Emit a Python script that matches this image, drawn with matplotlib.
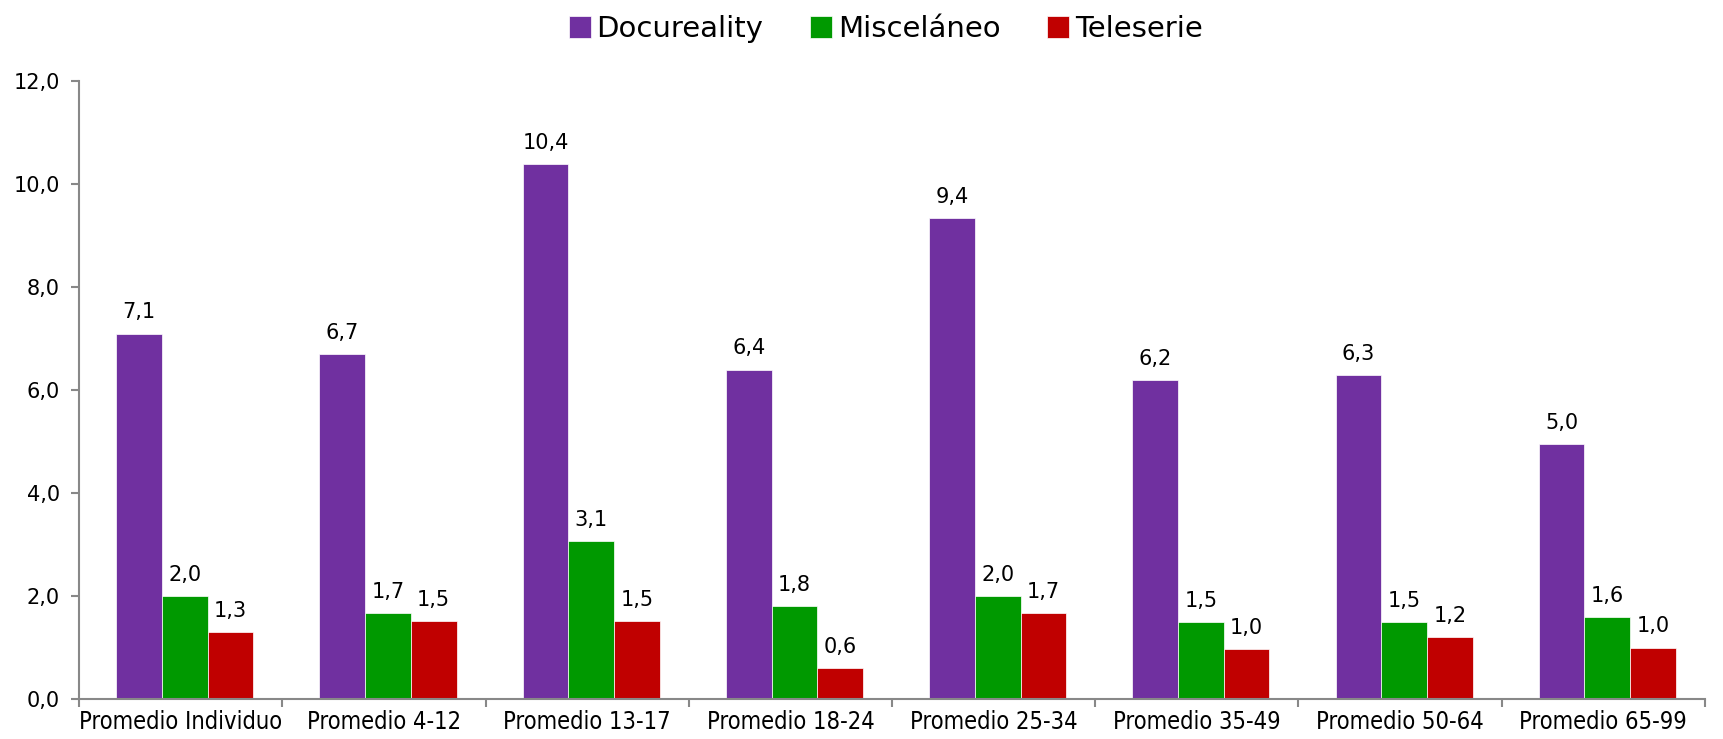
import matplotlib
matplotlib.use("Agg")
import matplotlib.pyplot as plt
import numpy as np

categories = ["Promedio Individuo", "Promedio 4-12", "Promedio 13-17", "Promedio 18-24",
              "Promedio 25-34", "Promedio 35-49", "Promedio 50-64", "Promedio 65-99"]
series_names = ["Docureality", "Misceláneo", "Teleserie"]
docureality = [7.1, 6.7, 10.4, 6.4, 9.35, 6.2, 6.3, 4.95]
miscelaneo = [2.0, 1.67, 3.07, 1.8, 2.0, 1.5, 1.5, 1.6]
teleserie = [1.3, 1.52, 1.52, 0.6, 1.67, 0.97, 1.2, 1.0]
docureality_labels = ["7,1", "6,7", "10,4", "6,4", "9,4", "6,2", "6,3", "5,0"]
miscelaneo_labels = ["2,0", "1,7", "3,1", "1,8", "2,0", "1,5", "1,5", "1,6"]
teleserie_labels = ["1,3", "1,5", "1,5", "0,6", "1,7", "1,0", "1,2", "1,0"]
colors = ["#7030A0", "#009900", "#C00000"]
yticks = [0, 2, 4, 6, 8, 10, 12]

fig = plt.figure(figsize=(17.23, 7.39), dpi=100)
ax = fig.add_axes([0.0459, 0.054, 0.9436, 0.836])

x = np.arange(len(categories))
w = 0.225
data = [docureality, miscelaneo, teleserie]
labels = [docureality_labels, miscelaneo_labels, teleserie_labels]
for i, (vals, labs, col, name) in enumerate(zip(data, labels, colors, series_names)):
    ax.bar(x + (i - 1) * w + 0.02, vals, w, color=col, label=name, edgecolor="white", linewidth=0.5)
    for xb, v, lab in zip(x + (i - 1) * w + 0.02, vals, labs):
        ax.annotate(lab, (xb, v), xytext=(0, 8), textcoords="offset points",
                    ha="center", va="bottom", fontsize=15, family="DejaVu Sans")

ax.set_xlim(-0.5, len(categories) - 0.5)
ax.set_ylim(0, 12)
ax.set_yticks(yticks)
ax.set_yticklabels([f"{t:.1f}".replace(".", ",") for t in yticks], fontsize=15)
ax.set_xticks(x)
ax.set_xticklabels(categories, fontsize=17, family="DejaVu Sans", fontstretch="condensed")
ax.set_xticks(np.arange(len(categories) + 1) - 0.5, minor=True)
ax.tick_params(axis="x", which="major", length=0, pad=8)
ax.tick_params(axis="x", which="minor", length=6, color="#888888", width=1.5)
ax.tick_params(axis="y", length=6, color="#888888", width=1.5, pad=8)
for s in ["top", "right"]:
    ax.spines[s].set_visible(False)
for s in ["left", "bottom"]:
    ax.spines[s].set_color("#888888")
    ax.spines[s].set_linewidth(1.5)

fig.legend(loc="upper center", bbox_to_anchor=(0.514, 1.015), ncol=3, frameon=False, fontsize=21,
           handlelength=0.75, handleheight=0.75, handletextpad=0.2, columnspacing=1.6)

fig.savefig("out.png", dpi=100)
